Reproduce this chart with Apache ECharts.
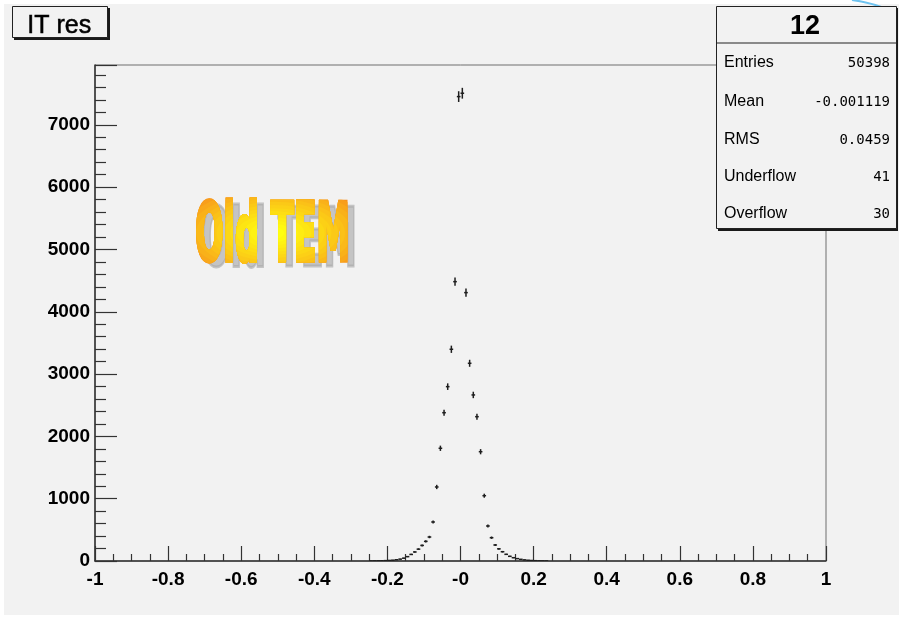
<!DOCTYPE html>
<html>
<head>
<meta charset="utf-8">
<title>IT res</title>
<script src="https://cdn.jsdelivr.net/npm/echarts@6/dist/echarts.min.js"></script>
<style>
  html, body { margin: 0; padding: 0; background: #ffffff; }
  #chart { width: 899px; height: 619px; }
</style>
</head>
<body>
<div id="chart"></div>
<script>
// Histogram "IT res": 200 bins on [-1, 1], bin width 0.01; only non-empty bins listed
const binWidth = 0.01;
const binCenters = [
  -0.245, -0.235, -0.225, -0.215, -0.205, -0.195, -0.185, -0.175, -0.165, -0.155,
  -0.145, -0.135, -0.125, -0.115, -0.105, -0.095, -0.085, -0.075, -0.065, -0.055,
  -0.045, -0.035, -0.025, -0.015, -0.005,
   0.005,  0.015,  0.025,  0.035,  0.045,  0.055,  0.065,  0.075,  0.085,  0.095,
   0.105,  0.115,  0.125,  0.135,  0.145,  0.155,  0.165,  0.175,  0.185,  0.195,
   0.205,  0.215,  0.225,  0.235
];
const counts = [
     1,    2,    3,    4,    6,    9,   13,   20,   30,   45,
    70,  105,  145,  190,  250,  315,  385,  626, 1188, 1809,
  2380, 2798, 3398, 4483, 7453,
  7507, 4307, 3173, 2665, 2316, 1754, 1048,  562,  374,  257,
   195,  149,  107,   75,   53,   38,   27,   18,   12,    8,
     5,    3,    2,    1
];

// Statistics box
const statsTitle = '12';
const statsLabels = ['Entries', 'Mean', 'RMS', 'Underflow', 'Overflow'];
const statsValues = ['50398', '-0.001119', '0.0459', '41', '30'];

// Overlay caption
const captionText = 'Old TEM';

const xTickFormat = v => {
  const r = Math.round(v * 10) / 10;
  if (r === 0) return '-0';
  return String(r);
};

const chart = echarts.init(document.getElementById('chart'), null, { renderer: 'canvas' });

const axisFont = { fontFamily: 'Liberation Sans', fontWeight: 'bold', fontSize: 19, color: '#000' };

const statsGraphics = [];
const rowY = [62, 101, 139, 176, 213];
statsLabels.forEach((lab, i) => {
  statsGraphics.push({
    type: 'text', left: 724, top: rowY[i] - 7, z: 102,
    style: { text: lab, fontFamily: 'Liberation Sans', fontSize: 16, fill: '#000' }
  });
  statsGraphics.push({
    type: 'text', right: 899 - 890, top: rowY[i] - 6, z: 102,
    style: { text: statsValues[i], fontFamily: 'DejaVu Sans Mono', fontSize: 14, fill: '#000' }
  });
});

const option = {
  backgroundColor: '#ffffff',
  animation: false,
  grid: {
    left: 95, right: 73, top: 65, bottom: 58,
    show: true, borderColor: '#6e6e6e', borderWidth: 1, backgroundColor: 'transparent'
  },
  xAxis: {
    type: 'value', min: -1, max: 1, interval: 0.2,
    axisLine: { show: true, onZero: false, lineStyle: { color: '#333', width: 1.5 } },
    axisTick: { show: true, inside: true, length: 15, lineStyle: { color: '#333', width: 1.2 } },
    minorTick: { show: true, splitNumber: 4, length: 7, lineStyle: { color: '#333', width: 1.2 } },
    splitLine: { show: false },
    axisLabel: Object.assign({ margin: 9, formatter: xTickFormat }, axisFont)
  },
  yAxis: {
    type: 'value', min: 0, max: 7960, interval: 1000,
    axisLine: { show: true, onZero: false, lineStyle: { color: '#333', width: 1.5 } },
    axisTick: { show: true, inside: true, length: 22, lineStyle: { color: '#333', width: 1.2 } },
    minorTick: { show: true, splitNumber: 5, length: 11, lineStyle: { color: '#333', width: 1.2 } },
    splitLine: { show: false },
    axisLabel: Object.assign({
      margin: 5,
      formatter: v => (v % 1000 === 0 ? String(v) : '')
    }, axisFont)
  },
  series: [{
    type: 'custom',
    data: binCenters.map((c, i) => [c, counts[i]]),
    clip: true,
    renderItem: (params, api) => {
      const x = api.value(0);
      const y = api.value(1);
      const err = Math.sqrt(y);
      const mid = api.coord([x, y]);
      const top = api.coord([x, y + err]);
      const bot = api.coord([x, Math.max(0, y - err)]);
      const lft = api.coord([x - binWidth / 2, y]);
      const rgt = api.coord([x + binWidth / 2, y]);
      const st = { stroke: '#1e1e1e', lineWidth: 1.5 };
      return {
        type: 'group',
        children: [
          { type: 'line', shape: { x1: mid[0], y1: top[1], x2: mid[0], y2: bot[1] }, style: st },
          { type: 'line', shape: { x1: lft[0], y1: mid[1], x2: rgt[0], y2: mid[1] }, style: st }
        ]
      };
    }
  }],
  graphic: [
    // canvas background
    { type: 'rect', left: 4, top: 4, z: -10, shape: { width: 895, height: 611 }, style: { fill: '#f2f2f2' } },
    // decorative arc in the corner
    { type: 'bezierCurve', z: 50, shape: { x1: 852, y1: 0, cpx1: 870, cpy1: 2, x2: 892, y2: 11 },
      style: { stroke: '#6ec3f0', lineWidth: 2, fill: null } },
    // title box with shadow
    { type: 'rect', left: 14, top: 8, z: 100, shape: { width: 96, height: 32 }, style: { fill: '#1a1a1a' } },
    { type: 'rect', left: 12, top: 6, z: 101, shape: { width: 95, height: 31 },
      style: { fill: '#f2f2f2', stroke: '#222', lineWidth: 1 } },
    { type: 'text', left: 27, top: 13, z: 102,
      style: { text: 'IT res', fontFamily: 'Liberation Sans', fontSize: 25, fill: '#000',
               stroke: '#000', lineWidth: 0.5 } },
    // stats box with shadow
    { type: 'rect', left: 718, top: 8, z: 100, shape: { width: 180, height: 223 }, style: { fill: '#1a1a1a' } },
    { type: 'rect', left: 716, top: 6, z: 101, shape: { width: 180, height: 222 },
      style: { fill: '#f2f2f2', stroke: '#222', lineWidth: 1 } },
    { type: 'line', z: 102, shape: { x1: 716, y1: 43, x2: 896, y2: 43 }, style: { stroke: '#222', lineWidth: 1 } },
    { type: 'text', left: 790, top: 13, z: 102,
      style: { text: statsTitle, fontFamily: 'Liberation Sans', fontWeight: 'bold', fontSize: 27, fill: '#000' } },
    ...statsGraphics
  ]
};

chart.setOption(option);

// Word-art caption: grey drop shadow, orange base, yellow core built from
// nested elliptical clips so the fill fades from orange edges to a yellow centre.
(function drawCaption() {
  const zr = chart.getZr();
  const font = { fontFamily: 'DejaVu Sans Condensed', fontWeight: 'bold', fontSize: 82,
                 verticalAlign: 'middle', align: 'left' };
  const tx = 195, ty = 240, sx = 0.455;
  const makeText = (dx, dy, fill, z) => new echarts.graphic.Text({
    x: tx + dx, y: ty + dy, scaleX: sx, z: z,
    style: Object.assign({ text: captionText, fill: fill, stroke: fill, lineWidth: 3 }, font)
  });
  zr.add(makeText(7, 5, 'rgba(170,170,170,0.65)', 60));
  zr.add(makeText(0, 0, '#f7911e', 61));

  const from = [247, 145, 30];
  const to = [255, 255, 16];
  const cx = 274, cy = 233;
  const steps = 14;
  for (let k = 1; k <= steps; k++) {
    const t = k / steps;
    const col = 'rgb(' + from.map((f, i) => Math.round(f + (to[i] - f) * Math.pow(t, 0.8))).join(',') + ')';
    const g = new echarts.graphic.Group();
    g.add(makeText(0, 0, col, 61 + k));
    g.setClipPath(new echarts.graphic.Ellipse({
      shape: { cx: cx, cy: cy, rx: 95 * (1 - t) + 10, ry: 44 * (1 - t) + 6 }
    }));
    zr.add(g);
  }
})();
</script>
</body>
</html>
